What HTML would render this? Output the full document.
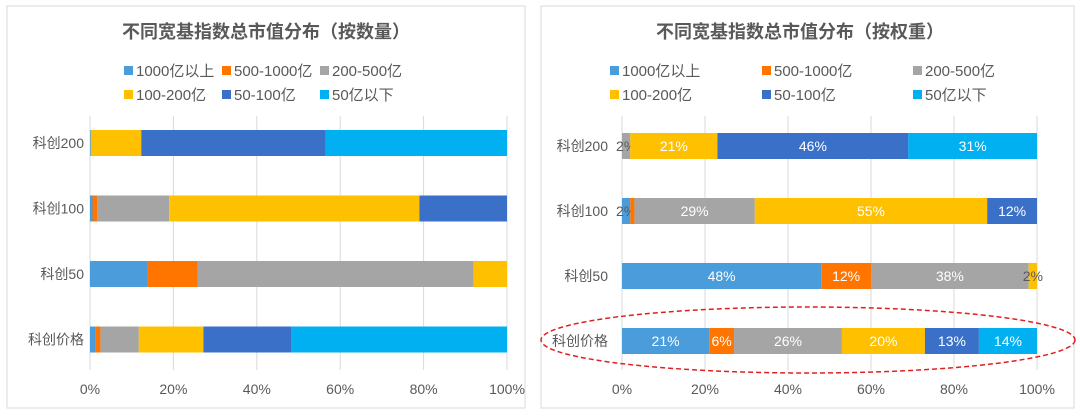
<!DOCTYPE html>
<html><head><meta charset="utf-8">
<style>
body{margin:0;background:#fff;font-family:"Liberation Sans","Noto Sans CJK SC",sans-serif;}
svg{display:block}
</style></head>
<body>
<svg id="c" width="1080" height="420" font-family="Liberation Sans, Noto Sans CJK SC, sans-serif"></svg>
<script>
const categories = ["科创200","科创100","科创50","科创价格"];
const seriesNames = ["1000亿以上","500-1000亿","200-500亿","100-200亿","50-100亿","50亿以下"];
const colors = ["#4a9cdb","#ff7500","#a5a5a5","#ffc000","#3a70c8","#00b0f0"];
const tickLabels = ["0%","20%","40%","60%","80%","100%"];
// left chart: by count
const countData = [
  [0.2,0,0,12.1,44.2,43.5],
  [0.6,1.1,17.3,60,21,0],
  [13.8,12,66.2,8,0,0],
  [1.3,1.2,9.2,15.5,21,51.8]
];
// right chart: by weight
const weightData = [
  [0,0,2,21,46,31],
  [2,1,29,56,12,0],
  [48,12,38,2,0,0],
  [21,6,26,20,13,14]
];
const weightLabels = [
  ["","","2%","21%","46%","31%"],
  ["2%","","29%","55%","12%",""],
  ["48%","12%","38%","2%","",""],
  ["21%","6%","26%","20%","13%","14%"]
];

const svg = document.getElementById('c');
const NS = "http://www.w3.org/2000/svg";
function mk(tag, attrs, parent){
  const e = document.createElementNS(NS, tag);
  for (const k in attrs) e.setAttribute(k, attrs[k]);
  (parent||svg).appendChild(e);
  return e;
}

function drawChart(cfg){
  const g = mk('g', {});
  
  
  const frame = mk('rect', {x:cfg.px, y:6, width:cfg.pw, height:402, fill:'#fff', stroke:'#d9d9d9', 'stroke-width':1}, g);
  
  
  const t = mk('text', {x:cfg.titleX, y:38, 'text-anchor':'middle', 'font-size':18, 'font-weight':'bold', fill:'#595959'}, g);
  t.textContent = cfg.title;
  
  
  seriesNames.forEach((s, i) => {
    const lx = cfg.legX[i % 3], ly = i < 3 ? 76 : 100;
    const lg = mk('g', {}, g);
    
    
    mk('rect', {x:lx, y:ly - 10, width:9, height:9, fill:colors[i]}, lg);
    const lt = mk('text', {x:lx + 12, y:ly, 'font-size':15, fill:'#595959'}, lg);
    lt.textContent = s;
  });
  const x = v => cfg.x0 + (cfg.x1 - cfg.x0) * v / 100;
  tickLabels.forEach((tl, i) => {
    const xv = x(i * 20);
    const gl = mk('line', {x1:xv, x2:xv, y1:116, y2:370, stroke:'#d9d9d9', 'stroke-width':1}, g);
    
    
    const tx = mk('text', {x:xv, y:394, 'text-anchor':'middle', 'font-size':14, fill:'#595959'}, g);
    tx.textContent = tl;
    
    
  });
  categories.forEach((c, r) => {
    const yc = cfg.y0 + r * cfg.dy;
    const cl = mk('text', {x:cfg.x0 - cfg.labOff, y:yc + 5, 'text-anchor':'end', 'font-size':14, fill:'#595959'}, g);
    cl.textContent = c;
    
    
    let acc = 0;
    cfg.data[r].forEach((v, i) => {
      if (v <= 0) return;
      const b = mk('rect', {x:x(acc), y:yc - 13, width:x(acc + v) - x(acc), height:26, fill:colors[i]}, g);
      
      
      if (cfg.labels && cfg.labels[r][i]) {
        const bl = mk('text', {x:(x(acc) + x(acc + v)) / 2, y:yc + 5, 'text-anchor':'middle', 'font-size':14, fill: v < 4 ? '#595959' : '#fff'}, g);
        bl.textContent = cfg.labels[r][i];
        
        
      }
      acc += v;
    });
  });
}

drawChart({name:'count-chart', px:7, pw:518, title:'不同宽基指数总市值分布（按数量）', titleX:266,
  legX:[124,222,320], x0:90, x1:507, y0:143, dy:65.5, labOff:6, data:countData, labels:null});
drawChart({name:'weight-chart', px:541, pw:533, title:'不同宽基指数总市值分布（按权重）', titleX:800,
  legX:[610,762,913], x0:622, x1:1037, y0:146, dy:65, labOff:14, data:weightData, labels:weightLabels});

const el = mk('ellipse', {cx:808, cy:340, rx:267, ry:33, fill:'none', stroke:'#e02020', 'stroke-width':1.5, 'stroke-dasharray':'5,3'});


</script>
</body></html>
